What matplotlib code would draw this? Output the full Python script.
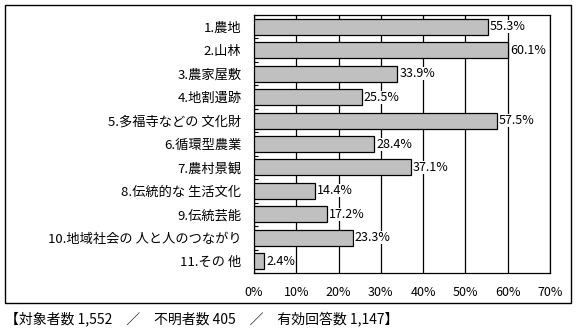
import matplotlib
matplotlib.use("Agg")
import matplotlib.pyplot as plt
from matplotlib.patches import Rectangle
import numpy as np

plt.rcParams['font.family'] = ['Noto Sans CJK JP', 'DejaVu Sans']

categories = ["1.農地", "2.山林", "3.農家屋敷", "4.地割遺跡", "5.多福寺などの 文化財",
              "6.循環型農業", "7.農村景観", "8.伝統的な 生活文化", "9.伝統芸能",
              "10.地域社会の 人と人のつながり", "11.その 他"]
values = [55.3, 60.1, 33.9, 25.5, 57.5, 28.4, 37.1, 14.4, 17.2, 23.3, 2.4]
xticks = [0, 10, 20, 30, 40, 50, 60, 70]
footer = "【対象者数 1,552　／　不明者数 405　／　有効回答数 1,147】"

W, H = 579, 332
fig = plt.figure(figsize=(W / 100, H / 100), dpi=100, facecolor='white')

# outer frame
fig.add_artist(Rectangle((5 / W, 1 - 303 / H), 566 / W, 298 / H, transform=fig.transFigure,
                         fill=False, edgecolor='black', linewidth=1.0))

ax = fig.add_axes([254 / W, 1 - 273 / H, 296 / W, 258 / H])
n = len(categories)
y = np.arange(n)
ax.barh(y, values, height=0.68, color='#C0C0C0', edgecolor='black', linewidth=0.9, zorder=3)
for i, v in enumerate(values):
    ax.text(v + 0.45, i, f"{v}%", va='center', ha='left', fontsize=9, zorder=4,
            bbox=dict(boxstyle='square,pad=0', facecolor='white', edgecolor='none'))

ax.set_xlim(0, 70)
ax.set_ylim(n - 0.5, -0.5)
ax.set_xticks(xticks)
ax.set_xticklabels([f"{t}%" for t in xticks], fontsize=9)
ax.tick_params(axis='x', length=0, pad=9)
ax.xaxis.grid(True, color='black', linewidth=0.9, zorder=0)
ax.set_axisbelow(True)

ax.set_yticks(y)
ax.set_yticklabels(categories, fontsize=9.5)
ax.tick_params(axis='y', length=0, pad=9)
ax.set_yticks(np.arange(n + 1) - 0.5, minor=True)
ax.tick_params(axis='y', which='minor', direction='in', length=3, width=0.8)

for s in ax.spines.values():
    s.set_linewidth(0.9)

fig.text(5 / W, 1 - 320 / H, footer, fontsize=10, va='center', ha='left')

fig.savefig("out.png", dpi=100, facecolor='white')
